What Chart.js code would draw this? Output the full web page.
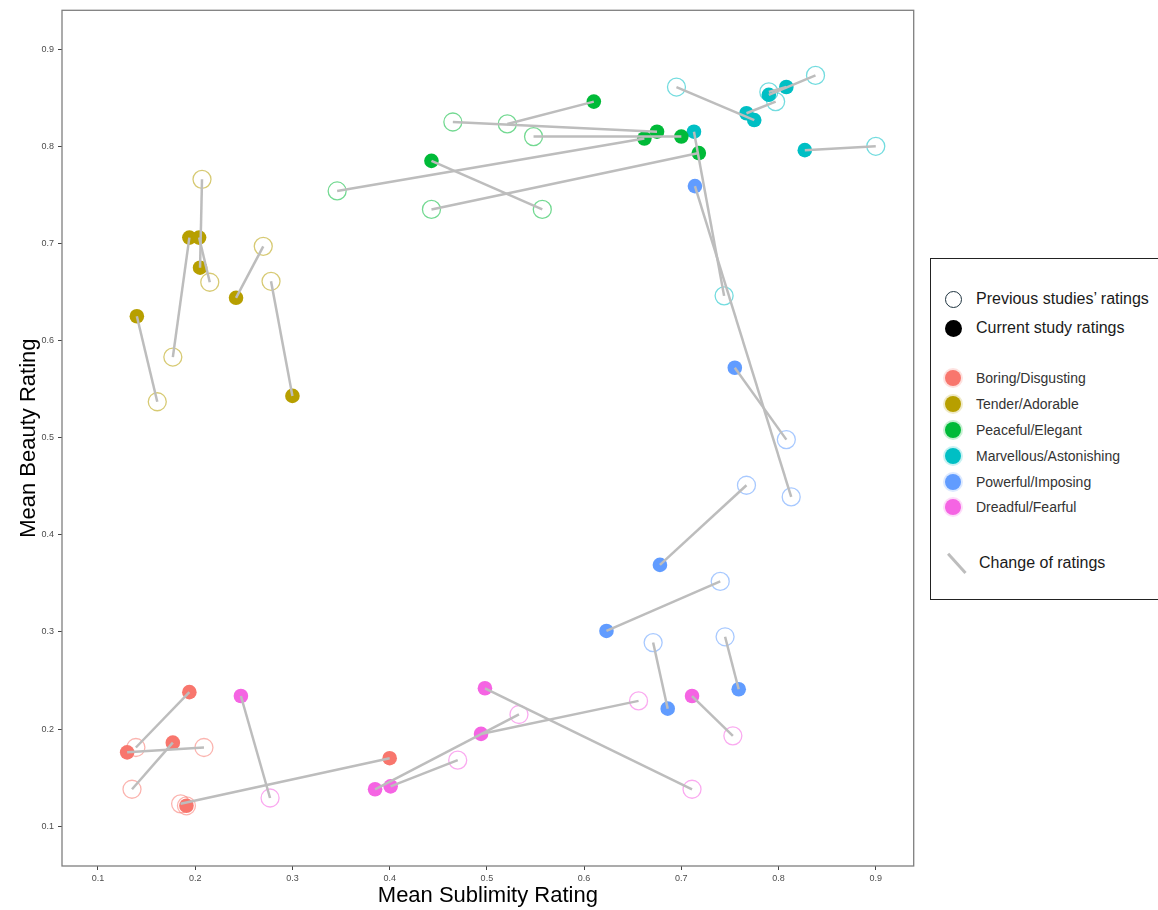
<!DOCTYPE html>
<html><head><meta charset="utf-8">
<script src="https://cdn.jsdelivr.net/npm/chart.js@4.4.1/dist/chart.umd.min.js"></script>
<style>
html,body{margin:0;padding:0;background:#fff;width:1158px;height:910px;overflow:hidden;font-family:"Liberation Sans",Arial,sans-serif;}
#wrap{position:absolute;left:0;top:0;width:924px;height:910px;}
#legend{position:absolute;left:930px;top:258px;width:240px;height:342px;border:1px solid #222;box-sizing:border-box;background:#fff;}
.dot{position:absolute;border-radius:50%;box-sizing:border-box;}
.lbl{position:absolute;white-space:nowrap;transform:translateY(-50%);}
.big{font-size:16px;color:#1a1a1a;}
.small{font-size:14px;color:#333;}
#lline{position:absolute;left:13px;top:303px;width:26px;height:2.5px;background:#BDBDBD;transform:rotate(48deg);}
</style></head>
<body>
<div id="wrap"><canvas id="c" width="924" height="910"></canvas></div>
<div id="legend"></div>
<script>
const categories = ['Boring/Disgusting','Tender/Adorable','Peaceful/Elegant','Marvellous/Astonishing','Powerful/Imposing','Dreadful/Fearful'];
const colors = ['#F8766D','#B79F00','#00BA38','#00BFC4','#619CFF','#F564E3'];
const haloColors = ['rgba(248,118,109,0.22)','rgba(183,159,0,0.22)','rgba(0,186,56,0.22)','rgba(0,191,196,0.22)','rgba(97,156,255,0.22)','rgba(245,100,227,0.22)'];
const openColors = ['rgba(248,118,109,0.55)','rgba(183,159,0,0.55)','rgba(0,186,56,0.55)','rgba(0,191,196,0.55)','rgba(97,156,255,0.55)','rgba(245,100,227,0.55)'];

// Previous studies' ratings (open circles), one array per category
const prevSublimity = [
  [0.139,0.209,0.135,0.185,0.191],
  [0.207,0.177,0.215,0.161,0.270,0.278],
  [0.521,0.465,0.548,0.346,0.557,0.443],
  [0.744,0.695,0.797,0.838,0.790,0.900],
  [0.813,0.808,0.767,0.740,0.671,0.745],
  [0.753,0.277,0.711,0.656,0.533,0.470]
];
const prevBeauty = [
  [0.181,0.181,0.138,0.123,0.121],
  [0.766,0.583,0.660,0.537,0.697,0.661],
  [0.823,0.825,0.810,0.754,0.735,0.735],
  [0.646,0.861,0.846,0.873,0.856,0.800],
  [0.439,0.498,0.451,0.352,0.289,0.295],
  [0.193,0.129,0.138,0.229,0.215,0.168]
];
// Current study ratings (filled circles)
const curSublimity = [
  [0.194,0.130,0.177,0.400,0.191],
  [0.205,0.194,0.204,0.140,0.242,0.300],
  [0.610,0.675,0.700,0.662,0.443,0.718],
  [0.713,0.775,0.767,0.790,0.808,0.827],
  [0.714,0.755,0.678,0.623,0.686,0.759],
  [0.711,0.247,0.498,0.494,0.385,0.401]
];
const curBeauty = [
  [0.238,0.176,0.186,0.170,0.121],
  [0.675,0.706,0.706,0.625,0.644,0.543],
  [0.846,0.815,0.810,0.808,0.785,0.793],
  [0.815,0.827,0.834,0.853,0.861,0.796],
  [0.759,0.572,0.369,0.301,0.221,0.241],
  [0.234,0.234,0.242,0.195,0.138,0.141]
];
const xTicks = [0.1,0.2,0.3,0.4,0.5,0.6,0.7,0.8,0.9];
const yTicks = [0.1,0.2,0.3,0.4,0.5,0.6,0.7,0.8,0.9];
const xRange = [0.063, 0.939];
const yRange = [0.059, 0.940];
const xTitle = 'Mean Sublimity Rating';
const yTitle = 'Mean Beauty Rating';

const datasets = [];
categories.forEach((name, c) => {
  for (let i = 0; i < curSublimity[c].length; i++) {
    datasets.push({
      data: [{x: prevSublimity[c][i], y: prevBeauty[c][i]}, {x: curSublimity[c][i], y: curBeauty[c][i]}],
      showLine: true, borderColor: '#BDBDBD', borderWidth: 2.5, pointRadius: 0, fill: false, order: 0
    });
  }
});
categories.forEach((name, c) => {
  datasets.push({
    label: name + ' current',
    data: curSublimity[c].map((x, i) => ({x: x, y: curBeauty[c][i]})),
    backgroundColor: colors[c], borderColor: colors[c], borderWidth: 0, pointRadius: 7.3, order: 1
  });
  datasets.push({
    label: name + ' previous',
    data: prevSublimity[c].map((x, i) => ({x: x, y: prevBeauty[c][i]})),
    backgroundColor: 'rgba(255,255,255,0)', borderColor: openColors[c], borderWidth: 1.3, pointRadius: 9, order: 2
  });
});

const framePlugin = {
  id: 'frame',
  afterDraw(chart) {
    const {ctx, chartArea: a} = chart;
    ctx.save();
    ctx.strokeStyle = '#7F7F7F';
    ctx.lineWidth = 1.3;
    ctx.strokeRect(a.left, a.top, a.right - a.left, a.bottom - a.top);
    ctx.fillStyle = '#000';
    ctx.font = '22px "Liberation Sans", Arial, sans-serif';
    ctx.textAlign = 'center';
    ctx.textBaseline = 'middle';
    ctx.fillText(xTitle, (a.left + a.right) / 2, 896);
    ctx.translate(29, (a.top + a.bottom) / 2);
    ctx.rotate(-Math.PI / 2);
    ctx.fillText(yTitle, 0, 0);
    ctx.restore();
  }
};

const tickFont = {family: '"Liberation Sans", Arial, sans-serif', size: 9};
new Chart(document.getElementById('c'), {
  type: 'scatter',
  data: {datasets},
  options: {
    responsive: false, animation: false, devicePixelRatio: 1,
    layout: {padding: {top: 10, right: 3, left: 0, bottom: 0}},
    plugins: {legend: {display: false}, tooltip: {enabled: false}},
    scales: {
      x: {
        type: 'linear', min: xRange[0], max: xRange[1],
        afterBuildTicks: s => { s.ticks = xTicks.map(v => ({value: v})); },
        afterFit: s => { s.height = 44; },
        grid: {drawOnChartArea: false, drawTicks: true, tickLength: 4, color: '#444', lineWidth: 1},
        border: {display: false},
        ticks: {font: tickFont, color: '#4D4D4D', padding: 3, maxRotation: 0, callback: v => v.toFixed(1)}
      },
      y: {
        type: 'linear', min: yRange[0], max: yRange[1],
        afterBuildTicks: s => { s.ticks = yTicks.map(v => ({value: v})); },
        afterFit: s => { s.width = 62; },
        grid: {drawOnChartArea: false, drawTicks: true, tickLength: 4, color: '#444', lineWidth: 1},
        border: {display: false},
        ticks: {font: tickFont, color: '#4D4D4D', padding: 4, callback: v => v.toFixed(1)}
      }
    }
  },
  plugins: [framePlugin]
});

// Legend
const lg = document.getElementById('legend');
function add(html) { lg.insertAdjacentHTML('beforeend', html); }
add('<div class="dot" style="left:14px;top:32px;width:17px;height:17px;border:1.6px solid #1f3440;"></div>');
add('<div class="lbl big" style="left:45px;top:40px;">Previous studies\u2019 ratings</div>');
add('<div class="dot" style="left:14px;top:61px;width:17px;height:17px;background:#000;"></div>');
add('<div class="lbl big" style="left:45px;top:69px;">Current study ratings</div>');
const rowY = [119,145,171,197,223,248];
categories.forEach((name, c) => {
  const y = rowY[c];
  add('<div class="dot" style="left:14px;top:' + (y - 8) + 'px;width:16px;height:16px;background:' + colors[c] + ';box-shadow:0 0 0 2px ' + haloColors[c] + ';"></div>');
  add('<div class="lbl small" style="left:45px;top:' + y + 'px;">' + name + '</div>');
});
add('<div id="lline"></div>');
add('<div class="lbl big" style="left:48px;top:304px;">Change of ratings</div>');
</script>
</body></html>
